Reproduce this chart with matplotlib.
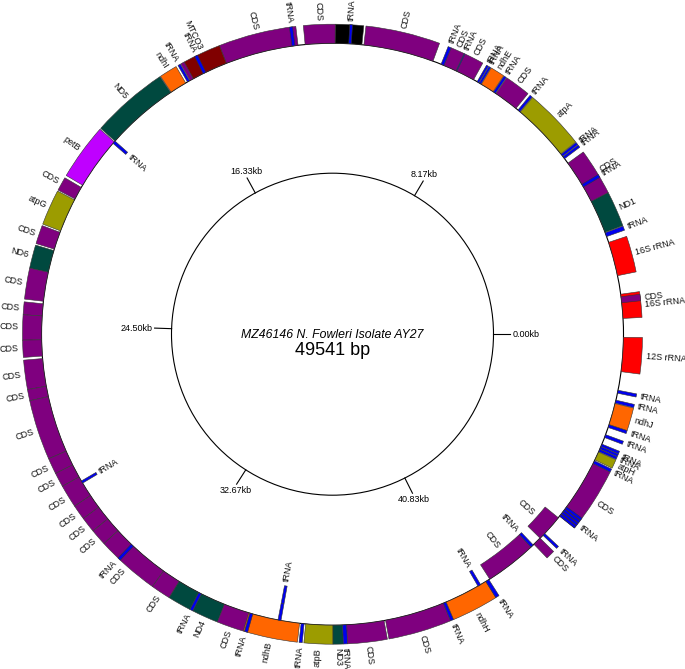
import matplotlib.pyplot as plt
from matplotlib.patches import Wedge, Circle
import numpy as np

plt.rcParams['font.family'] = ['Liberation Sans', 'DejaVu Sans']

genome_len = 49541
title = "MZ46146 N. Fowleri Isolate AY27"

# feature table (bp), drawn in this order so overlays come after their base
starts = [427, 853, 1596, 2697, 2821, 3743, 4183, 5105, 5188, 5271,
          6867, 7005, 7693, 7775, 8161, 8229, 8394, 8904, 8931, 9289,
          9605, 11587, 11876, 12316, 13321, 13404, 15330, 15936, 16321, 16431,
          16555, 17037, 19073, 19045, 20601, 20986, 21949, 22472, 23078, 23945,
          24275, 24922, 25431, 26188, 26477, 28032, 28445, 28816, 28940, 29408,
          29793, 30193, 30619, 31129, 32270, 33468, 33385, 34156, 34857, 34885,
          35669, 36303, 36426, 37169, 37431, 37541, 38601, 40238, 40321, 41532,
          41284, 41656, 43073, 43183, 43527, 43417, 44215, 44215, 44298, 44381,
          44463, 45908, 46018, 46266, 46342, 46418, 46679, 46968, 47051, 47656,
          47931, 48523, 32780, 35669]
ends = [1087, 1018, 2532, 2807, 3743, 4954, 4266, 5174, 5257, 6853,
        6936, 7679, 7762, 8147, 8216, 8284, 8904, 8931, 9289, 9371,
        11532, 12316, 11945, 13128, 15330, 13486, 16321, 16019, 16417, 16500,
        17023, 19045, 20532, 19128, 20958, 21908, 22431, 23078, 23876, 24275,
        24922, 25363, 26188, 26477, 28032, 28445, 28816, 29408, 29009, 29793,
        30193, 30619, 32270, 31211, 32780, 34156, 33468, 34857, 36261, 34968,
        35752, 36385, 37169, 37431, 37541, 38560, 40238, 40321, 41532, 41628,
        41367, 43073, 43156, 43417, 43596, 44160, 45908, 44284, 44367, 44449,
        44533, 45991, 46252, 46335, 46411, 46487, 46762, 47051, 47643, 47739,
        48013, 49458, 33385, 35752]
names = ['16S rRNA', 'CDS', '16S rRNA', 'tRNA', 'ND1', 'CDS', 'tRNA', 'tRNA', 'tRNA', 'atpA',
         'tRNA', 'CDS', 'tRNA', 'ndhE', 'tRNA', 'tRNA', 'CDS', 'tRNA', 'CDS', 'tRNA',
         'CDS', '', 'tRNA', 'CDS', 'CDS', 'tRNA', 'MTCO3', 'tRNA', '', 'tRNA',
         'ndhI', 'ND5', 'petB', 'tRNA', 'CDS', 'atpG', 'CDS', 'ND6', 'CDS', 'CDS',
         'CDS', 'CDS', 'CDS', 'CDS', 'CDS', 'CDS', 'CDS', 'CDS', 'tRNA', 'CDS',
         'CDS', 'CDS', 'CDS', 'tRNA', 'CDS', 'ND4', 'tRNA', 'CDS', 'ndhB', 'tRNA',
         '', 'tRNA', 'atpB', 'ND3', 'tRNA', 'CDS', 'CDS', 'tRNA', 'ndhH', 'tRNA',
         'tRNA', 'CDS', 'tRNA', 'CDS', 'tRNA', 'CDS', 'CDS', '', 'tRNA', '',
         '', 'tRNA', 'atpH', 'tRNA', 'tRNA', '', 'tRNA', 'tRNA', 'ndhJ', 'tRNA',
         'tRNA', '12S rRNA', '', 'tRNA']
kinds = ['rRNA', 'CDS', 'rRNA', 'tRNA', 'ND', 'CDS', 'tRNA', 'tRNA', 'tRNA', 'atp',
         'tRNA', 'CDS', 'tRNA', 'ndh', 'tRNA', 'tRNA', 'CDS', 'tRNA', 'CDS', 'tRNA',
         'CDS', 'misc', 'tRNA', 'CDS', 'CDS', 'tRNA', 'cox', 'tRNA', 'CDS', 'tRNA',
         'ndh', 'ND', 'pet', 'tRNA', 'CDS', 'atp', 'CDS', 'ND', 'CDS', 'CDS',
         'CDS', 'CDS', 'CDS', 'CDS', 'CDS', 'CDS', 'CDS', 'CDS', 'tRNA', 'CDS',
         'CDS', 'CDS', 'CDS', 'tRNA', 'CDS', 'ND', 'tRNA', 'CDS', 'ndh', 'tRNA',
         'tRNA', 'tRNA', 'atp', 'ND', 'tRNA', 'CDS', 'CDS', 'tRNA', 'ndh', 'tRNA',
         'tRNA', 'CDS', 'tRNA', 'CDS', 'tRNA', 'CDS', 'CDS', 'tRNA', 'tRNA', 'tRNA',
         'tRNA', 'tRNA', 'atp', 'tRNA', 'tRNA', 'tRNA', 'tRNA', 'tRNA', 'ndh', 'tRNA',
         'tRNA', 'rRNA', 'ND', 'tRNA']
levels = [0] * len(starts)
for i in [33, 48, 60, 70, 71, 72, 75]:
    levels[i] = -1
levels[-1] = -2

tick_kb = [0.00, 8.17, 16.33, 24.50, 32.67, 40.83]

colors = {'CDS': '#7f007f', 'tRNA': '#0000ee', 'rRNA': '#ff0000', 'ND': '#00493f',
          'atp': '#9c9c00', 'ndh': '#ff6600', 'pet': '#bf00ff', 'cox': '#800000',
          'misc': '#000000'}

fig = plt.figure(figsize=(6.85, 6.69), dpi=100)
ax = fig.add_axes([0, 0, 1, 1])
ax.set_xlim(0, 685)
ax.set_ylim(0, 669)
ax.axis('off')

cx, cy = 332.5, 334.8
ring = {0: (291, 310), -1: (274, 291), -2: (256, 274)}

# backbone
ax.add_patch(Circle((cx, cy), 291, fill=False, lw=0.8, ec='black', zorder=1))

for s, e, name, kind, lev in zip(starts, ends, names, kinds, levels):
    a1, a2 = s / genome_len * 360, e / genome_len * 360
    r_in, r_out = ring[lev]
    ax.add_patch(Wedge((cx, cy), r_out, a1, a2, width=r_out - r_in,
                       fc=colors[kind], ec='#333333', lw=0.4, zorder=2))
    if not name:
        continue
    mid = (a1 + a2) / 2
    m = (mid + 180) % 360 - 180
    right_side = -90 < m <= 90
    rot = m if right_side else m - 180
    if lev == 0:
        r = r_out + 4
        ha = 'left' if right_side else 'right'
    else:
        r = r_in - 4
        ha = 'right' if right_side else 'left'
    x = cx + r * np.cos(np.radians(mid))
    y = cy + r * np.sin(np.radians(mid))
    ax.text(x, y, name, rotation=rot, rotation_mode='anchor', ha=ha, va='center',
            fontsize=6.5, color='#111111', zorder=3)

# inner scale circle with ticks
ax.add_patch(Circle((cx, cy), 161, fill=False, lw=0.8, ec='black'))
for kb in tick_kb:
    a = np.radians(kb * 1000 / genome_len * 360)
    ca, sa = np.cos(a), np.sin(a)
    ax.plot([cx + 161 * ca, cx + 178 * ca], [cy + 161 * sa, cy + 178 * sa],
            color='black', lw=0.8)
    ha = 'left' if ca > 0.6 else ('right' if ca < -0.6 else 'center')
    va = 'bottom' if sa > 0.3 else ('top' if sa < -0.3 else 'center')
    ax.text(cx + 180 * ca, cy + 180 * sa, f"{kb:.2f}kb", ha=ha, va=va, fontsize=6.5)

ax.text(cx, cy - 1, title, ha='center', va='center', fontsize=8.8, style='italic')
ax.text(cx, cy - 16, f"{genome_len} bp", ha='center', va='center', fontsize=13)

fig.savefig('out.png', dpi=100)
